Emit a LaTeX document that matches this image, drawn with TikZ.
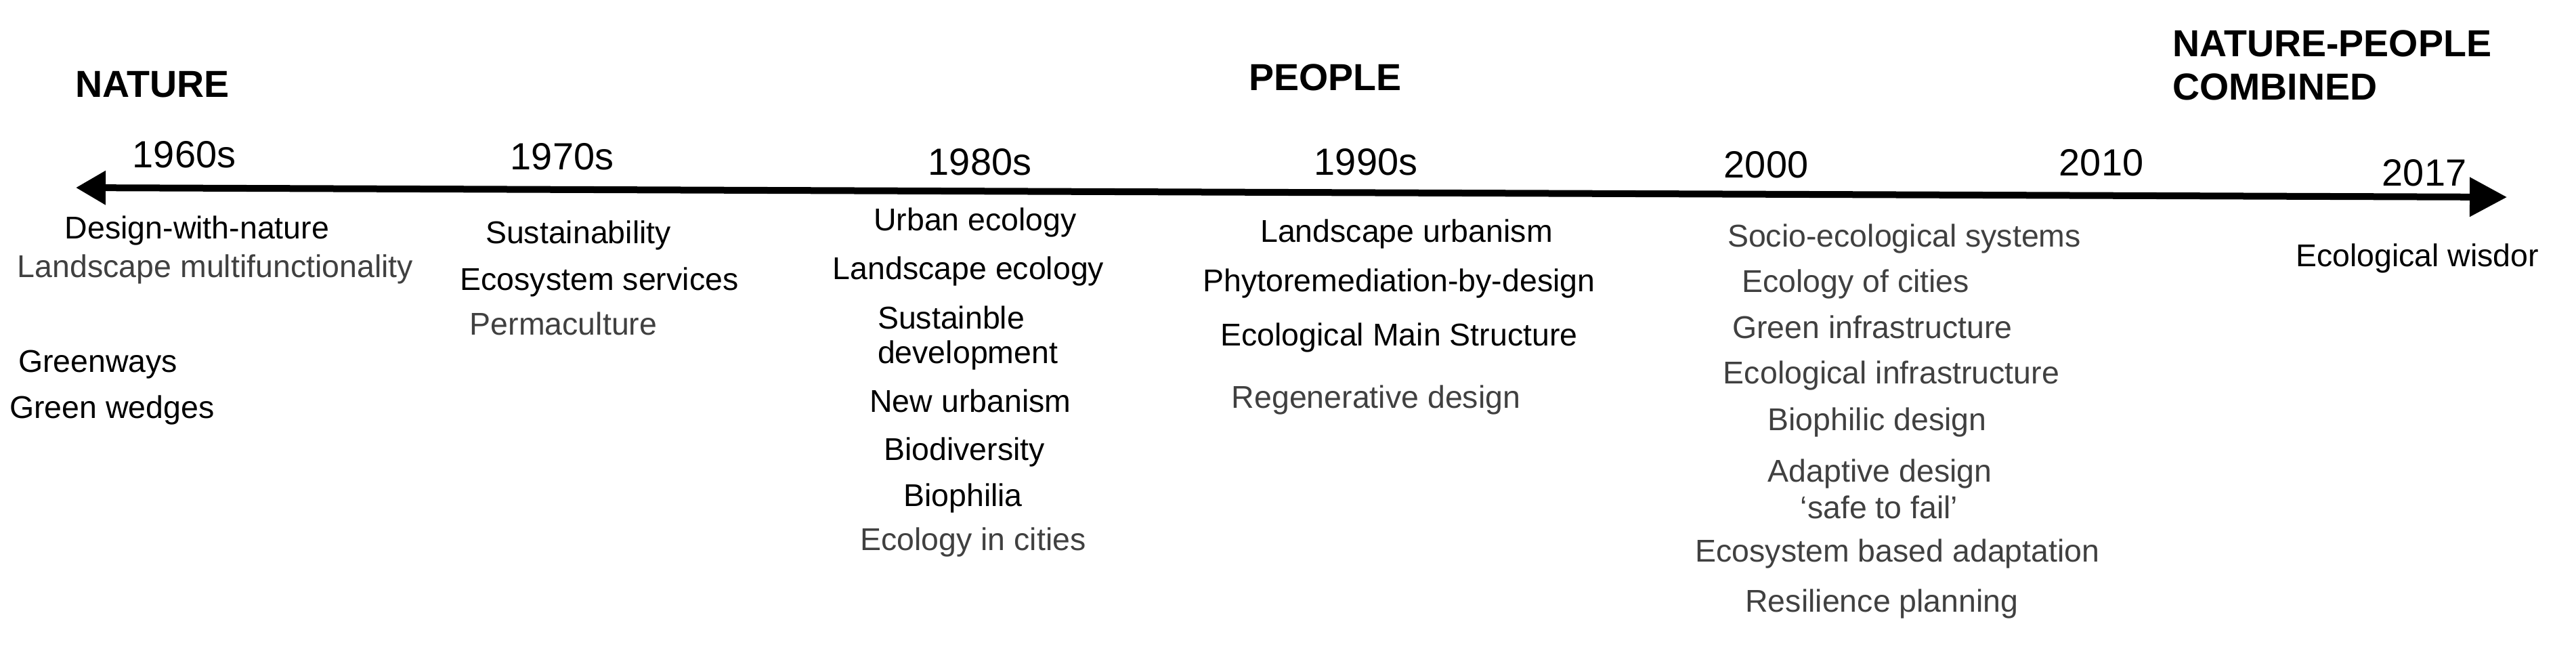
\documentclass[tikz,border=0pt]{standalone}
\usepackage{fontspec}
\setmainfont{Liberation Sans}
\usetikzlibrary{arrows.meta}
\definecolor{greytext}{HTML}{404040}
\begin{document}
\begin{tikzpicture}[
  every node/.style={inner sep=0pt, outer sep=0pt},
  item/.style={anchor=base, font=\fontsize{13.23}{15}\selectfont, text=black},
  itemg/.style={item, text=greytext},
  yearlbl/.style={anchor=base, font=\fontsize{15.9}{18}\selectfont},
  era/.style={anchor=base, font=\fontsize{15.8}{18}\selectfont\bfseries},
  timeline/.style={line width=0.1cm, {Triangle[length=0.44cm,width=0.48cm]}-{Triangle[length=0.55cm,width=0.56cm]}}
]
\useasboundingbox (0,0) rectangle (38.04,-9.6);

% eras
\node[era] (nature) at (2.25,-1.43) {NATURE};
\node[era] (people) at (19.57,-1.33) {PEOPLE};
\node[era, anchor=base west] (np1) at (32.08,-0.83) {NATURE-PEOPLE};
\node[era, anchor=base west] (np2) at (32.08,-1.47) {COMBINED};

% timeline
\coordinate (tl) at (1.12,-2.77);
\coordinate (tr) at (37.02,-2.91);
\draw[timeline] (tl) -- (tr);

% years
\node[yearlbl] (y60) at (2.72,-2.47) {1960s};
\node[yearlbl] (y70) at (8.30,-2.50) {1970s};
\node[yearlbl] (y80) at (14.47,-2.58) {1980s};
\node[yearlbl] (y90) at (20.17,-2.58) {1990s};
\node[yearlbl] (y00) at (26.08,-2.62) {2000};
\node[yearlbl] (y10) at (31.03,-2.59) {2010};
\node[yearlbl] (y17) at (35.80,-2.74) {2017};

% 1960s
\node[item] (a1) at (2.91,-3.52) {Design-with-nature};
\node[itemg] (a2) at (3.18,-4.09) {Landscape multifunctionality};
\node[item, anchor=base west] (a3) at (0.27,-5.49) {Greenways};
\node[item, anchor=base west] (a4) at (0.14,-6.17) {Green wedges};

% 1970s
\node[item] (b1) at (8.54,-3.59) {Sustainability};
\node[item] (b2) at (8.85,-4.28) {Ecosystem services};
\node[itemg] (b3) at (8.32,-4.94) {Permaculture};

% 1980s
\node[item] (c1) at (14.40,-3.40) {Urban ecology};
\node[item] (c2) at (14.30,-4.12) {Landscape ecology};
\node[item, anchor=base west] (c3) at (12.96,-4.85) {Sustainble};
\node[item, anchor=base west] (c3b) at (12.96,-5.36) {development};
\node[item] (c4) at (14.33,-6.08) {New urbanism};
\node[item] (c5) at (14.24,-6.79) {Biodiversity};
\node[item] (c6) at (14.22,-7.47) {Biophilia};
\node[itemg] (c7) at (14.37,-8.12) {Ecology in cities};

% 1990s
\node[item] (d1) at (20.77,-3.57) {Landscape urbanism};
\node[item] (d2) at (20.66,-4.30) {Phytoremediation-by-design};
\node[item] (d3) at (20.66,-5.10) {Ecological Main Structure};
\node[itemg] (d4) at (20.32,-6.02) {Regenerative design};

% 2000s
\node[itemg] (e1) at (28.12,-3.64) {Socio-ecological systems};
\node[itemg] (e2) at (27.40,-4.31) {Ecology of cities};
\node[itemg] (e3) at (27.65,-4.99) {Green infrastructure};
\node[itemg] (e4) at (27.93,-5.66) {Ecological infrastructure};
\node[itemg] (e5) at (27.72,-6.35) {Biophilic design};
\node[itemg] (e6) at (27.76,-7.11) {Adaptive design};
\node[itemg] (e6b) at (27.75,-7.65) {‘safe to fail’};
\node[itemg] (e7) at (28.02,-8.29) {Ecosystem based adaptation};
\node[itemg] (e8) at (27.79,-9.03) {Resilience planning};

% 2017
\node[item, anchor=base west] (f1) at (33.90,-3.93) {Ecological wisdor};
\end{tikzpicture}
\end{document}
